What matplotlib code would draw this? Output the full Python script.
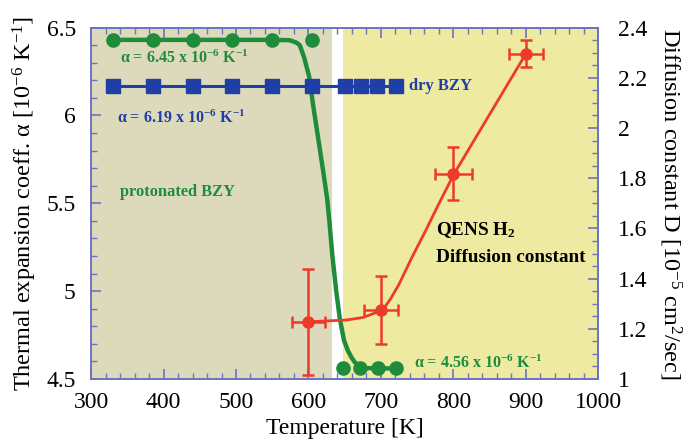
import numpy as np
import matplotlib
matplotlib.use("Agg")
import matplotlib.pyplot as plt
from matplotlib.ticker import MultipleLocator

plt.rcParams['font.family'] = ['Liberation Serif', 'DejaVu Serif']
plt.rcParams['mathtext.fontset'] = 'custom'
plt.rcParams['mathtext.rm'] = 'Liberation Serif'
plt.rcParams['mathtext.it'] = 'Liberation Serif:italic'
plt.rcParams['mathtext.bf'] = 'Liberation Serif:bold'

# ---- data ----
# protonated BZY (thermal expansion measurements)
prot_T_high = [330, 385, 440, 495, 550, 605]
prot_a_high = [6.43, 6.43, 6.43, 6.43, 6.43, 6.43]
prot_T_low = [648, 671, 696, 721]
prot_a_low = [4.56, 4.56, 4.56, 4.56]
# traced fit curve of protonated BZY
prot_curve_T = [330, 550, 574, 583, 588, 594, 601, 606, 613, 620, 626, 629, 633, 638, 643, 649, 654, 659, 664, 670, 680, 721]
prot_curve_a = [6.43, 6.43, 6.428, 6.415, 6.40, 6.33, 6.22, 6.07, 5.88, 5.69, 5.52, 5.39, 5.20, 5.01, 4.85, 4.72, 4.665, 4.625, 4.595, 4.575, 4.562, 4.56]

# dry BZY
dry_T = [330, 385, 440, 495, 550, 605, 650, 672, 695, 721]
dry_a = [6.17] * 10

# QENS H2 diffusion constant
qens_T = [600, 700, 800, 900]
qens_D = [1.228, 1.274, 1.818, 2.296]
qens_Derr = [0.21, 0.135, 0.106, 0.053]
qens_Terr = [23, 24, 25, 24]
# traced fit curve of diffusion constant
qens_curve_T = [600, 629, 652, 675, 688, 700, 706, 713, 725, 743, 762, 780, 801, 900]
qens_curve_D = [1.228, 1.232, 1.235, 1.245, 1.259, 1.274, 1.29, 1.318, 1.378, 1.486, 1.593, 1.699, 1.818, 2.296]

# regions
region_dry_end = 633
region_wet_start = 647

green = '#1e8c3a'
blue = '#1f3ea6'
red = '#ee3a2a'
spine_c = '#6a74c2'

fig = plt.figure(figsize=(6.95, 4.41), dpi=100)
ax = fig.add_axes([0.131, 0.1405, 0.730, 0.797])
ax2 = ax.twinx()

ax.axvspan(300, region_dry_end, color='#dddabb', lw=0, zorder=0)
ax.axvspan(region_wet_start, 1000, color='#eeeaa2', lw=0, zorder=0)

ax.plot(prot_curve_T, prot_curve_a, color=green, lw=3.2, zorder=3,
        solid_capstyle='round', solid_joinstyle='round')
ax.plot(prot_T_high, prot_a_high, 'o', color=green, ms=9.5, zorder=4)
ax.plot(prot_T_low, prot_a_low, 'o', color=green, ms=9.5, zorder=4)
ax.plot(dry_T, dry_a, 's-', color=blue, ms=10, lw=2.2, zorder=4)

ax2.plot(qens_curve_T, qens_curve_D, color=red, lw=2, zorder=3, solid_joinstyle='round')
ax2.errorbar(qens_T, qens_D, yerr=qens_Derr, xerr=qens_Terr, fmt='o', color=red,
             ms=8, elinewidth=1.8, capsize=4, capthick=1.8, zorder=4)

ax.set_xlim(300, 1000)
ax.set_ylim(4.5, 6.5)
ax2.set_ylim(1.0, 2.4)

ax.xaxis.set_major_locator(MultipleLocator(100))
ax.xaxis.set_minor_locator(MultipleLocator(20))
ax.yaxis.set_major_locator(MultipleLocator(0.5))
ax.yaxis.set_minor_locator(MultipleLocator(0.1))
ax2.yaxis.set_major_locator(MultipleLocator(0.2))
ax2.yaxis.set_minor_locator(MultipleLocator(0.05))

ax.set_yticks([4.5, 5, 5.5, 6, 6.5])
ax.set_yticklabels(['4.5', '5', '5.5', '6', '6.5'])
ax2.set_yticks([1, 1.2, 1.4, 1.6, 1.8, 2, 2.2, 2.4])
ax2.set_yticklabels(['1', '1.2', '1.4', '1.6', '1.8', '2', '2.2', '2.4'])

for a in (ax, ax2):
    for s in a.spines.values():
        s.set_color(spine_c)
        s.set_linewidth(1.2)
ax.tick_params(axis='x', which='both', direction='in', top=True, color=spine_c, labelsize=17, pad=9)
ax.tick_params(axis='y', which='both', direction='in', right=False, color=spine_c, labelsize=17, pad=11)
ax.tick_params(which='major', length=7, width=1.2)
ax.tick_params(which='minor', length=4, width=1.0)
ax2.tick_params(axis='y', which='both', direction='in', color=spine_c, labelsize=17, pad=14)
ax2.tick_params(which='major', length=7, width=1.2)
ax2.tick_params(which='minor', length=4, width=1.0)

ax.set_xlabel('Temperature [K]', fontsize=17, labelpad=4)
ax.set_ylabel(r'Thermal expansion coeff. α [10$^{-6}$ K$^{-1}$]', fontsize=17.5, labelpad=5)
ax2.set_ylabel(r'Diffusion constant D [10$^{-5}$ cm$^{2}$/sec]', fontsize=17.5, rotation=-90, labelpad=26)

ax.text(340, 6.324, r'α = 6.45 x 10$^{\mathbf{-6}}$ K$^{\mathbf{-1}}$', color=green,
        fontsize=11.5, fontweight='bold', va='center', ha='left', zorder=5)
ax.text(336, 5.983, r'α = 6.19 x 10$^{\mathbf{-6}}$ K$^{\mathbf{-1}}$', color=blue,
        fontsize=11.5, fontweight='bold', va='center', ha='left', zorder=5)
ax.text(340, 5.562, 'protonated BZY', color=green, fontsize=11.8, fontweight='bold',
        va='center', ha='left', zorder=5)
ax.text(739, 6.165, 'dry BZY', color=blue, fontsize=12, fontweight='bold',
        va='center', ha='left', zorder=5)
ax.text(776, 5.35, r'QENS H$_{\mathbf{2}}$', color='black', fontsize=13.8, fontweight='bold',
        va='center', ha='left', zorder=5)
ax.text(776, 5.193, 'Diffusion constant', color='black', fontsize=13.8, fontweight='bold',
        va='center', ha='left', zorder=5)
ax.text(745, 4.59, r'α = 4.56 x 10$^{\mathbf{-6}}$ K$^{\mathbf{-1}}$', color=green,
        fontsize=11.5, fontweight='bold', va='center', ha='left', zorder=5)

fig.savefig('out.png', dpi=100)
